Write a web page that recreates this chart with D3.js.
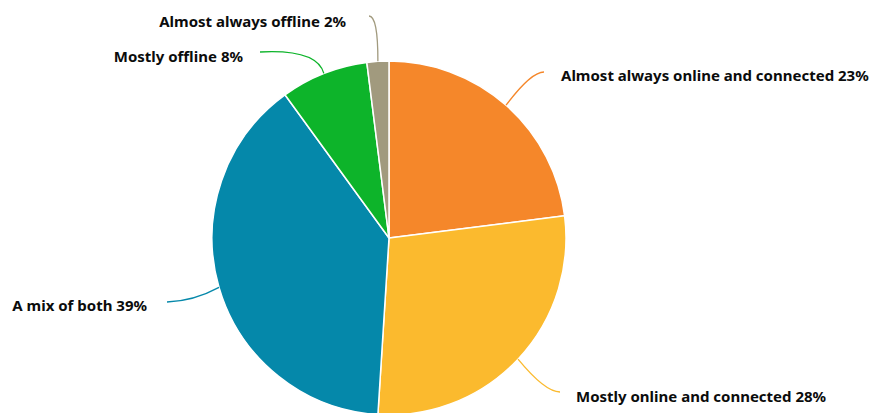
<!DOCTYPE html>
<html>
<head>
<meta charset="utf-8">
<script src="https://cdn.jsdelivr.net/npm/d3@7"></script>
<style>
  html, body { margin: 0; padding: 0; background: #fff; }
  svg { display: block; }
  .lbl { font-family: "Noto Sans", Lato, sans-serif; font-weight: 700; font-size: 15px; fill: #0b0c0c; }
</style>
</head>
<body>
<svg id="chart" width="871" height="413"></svg>
<script>
// Share of respondents by how connected they are
const categories = [
  "Almost always online and connected",
  "Mostly online and connected",
  "A mix of both",
  "Mostly offline",
  "Almost always offline"
];
const shares = [23, 28, 39, 8, 2];
const colors = ["#f5872a", "#fbba2e", "#0588aa", "#0db42a", "#a19a7e"];

const width = 871, height = 413;
const cx = 389, cy = 238, radius = 177;

const svg = d3.select("#chart");
const g = svg.append("g").attr("transform", `translate(${cx},${cy})`);

const pie = d3.pie().sort(null).value(d => d.v);
const arcs = pie(categories.map((c, i) => ({ name: c, v: shares[i], color: colors[i] })));
const arc = d3.arc().innerRadius(0).outerRadius(radius);

g.selectAll("path.slice")
  .data(arcs)
  .join("path")
  .attr("class", "slice")
  .attr("d", arc)
  .attr("fill", d => d.data.color)
  .attr("stroke", "#fff")
  .attr("stroke-width", 1.5)
  .attr("stroke-linejoin", "round");

// Label placement: connector end (relative to the pie centre), curve control
// point, text side, gap between connector end and text, baseline offset.
const labelLayout = [
  { end: [155, -166], ctrl: [142, -166], side: "right", gap: 17, dy: 9 },
  { end: [171, 154],  ctrl: [156, 154],  side: "right", gap: 16, dy: 10 },
  { end: [-222, 64],  ctrl: [-195, 63],  side: "left",  gap: 20, dy: 9 },
  { end: [-129, -186], ctrl: [-72, -189], side: "left", gap: 17, dy: 10 },
  { end: [-20, -222], ctrl: [-11, -222], side: "left",  gap: 23, dy: 11 }
];

arcs.forEach((d, i) => {
  const L = labelLayout[i];
  const mid = (d.startAngle + d.endAngle) / 2;
  const sx = radius * Math.sin(mid), sy = -radius * Math.cos(mid);
  const path = d3.path();
  path.moveTo(sx, sy);
  path.quadraticCurveTo(L.ctrl[0], L.ctrl[1], L.end[0], L.end[1]);
  g.append("path")
    .attr("d", path.toString())
    .attr("fill", "none")
    .attr("stroke", d.data.color)
    .attr("stroke-width", 1.3);

  g.append("text")
    .attr("class", "lbl")
    .attr("x", L.side === "right" ? L.end[0] + L.gap : L.end[0] - L.gap)
    .attr("y", L.end[1] + L.dy)
    .attr("text-anchor", L.side === "right" ? "start" : "end")
    .text(`${d.data.name} ${d.data.v}%`);
});
</script>
</body>
</html>
